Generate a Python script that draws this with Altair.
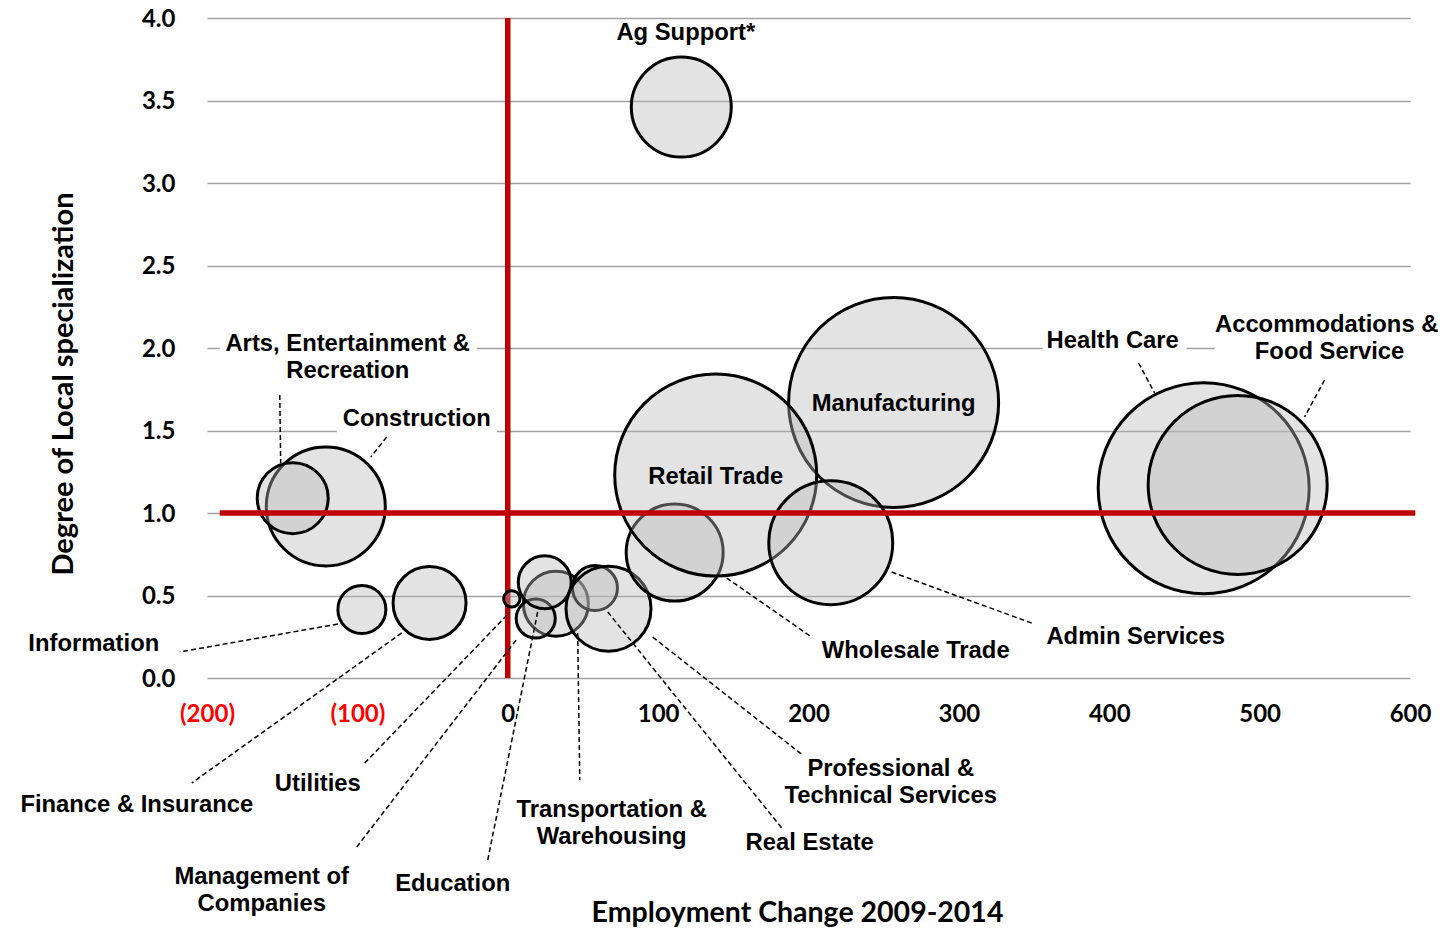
import altair as alt
import pandas as pd

# ---- bubble data (employment change, location quotient, bubble size) ----
industries = ["Construction", "Arts, Entertainment & Recreation", "Information",
              "Finance & Insurance", "Transportation & Warehousing", "Utilities",
              "Management of Companies", "Education", "Real Estate",
              "Professional & Technical Services", "Wholesale Trade", "Manufacturing",
              "Retail Trade", "Admin Services", "Ag Support*", "Health Care",
              "Accommodations & Food Service"]
emp_change = [-121, -143, -97, -52, 32, 2.7, 18.6, 24.6, 58, 67, 111, 256.6,
              138.3, 214.8, 115.4, 462.8, 485.4]
specialization = [1.04, 1.09, 0.415, 0.455, 0.45, 0.48, 0.36, 0.58, 0.545, 0.42,
                  0.76, 1.67, 1.23, 0.82, 3.46, 1.15, 1.17]
jobs = [1272, 453, 207, 479, 380, 24, 137, 252, 182, 649, 845, 3962, 3666, 1381,
        898, 4000, 2879]

# ---- annotation text (one row per line) ----
label_text = ["Ag Support*", "Arts, Entertainment &", "Recreation", "Construction",
              "Health Care", "Accommodations &", "Food Service", "Manufacturing",
              "Retail Trade", "Wholesale Trade", "Admin Services", "Information",
              "Finance & Insurance", "Utilities", "Management of", "Companies",
              "Education", "Transportation &", "Warehousing", "Real Estate",
              "Professional &", "Technical Services"]
label_x = [118.4, -106.4, -106.4, -60.5, 402.3, 544.6, 546.5, 256.6, 138.3, 271.3,
           417.6, -275.3, -246.7, -126.3, -163.6, -163.6, -36.6, 69.1, 69.1, 200.8,
           254.7, 254.7]
label_y = [3.909, 2.024, 1.861, 1.570, 2.042, 2.139, 1.976, 1.661, 1.218, 0.164,
           0.248, 0.206, -0.770, -0.642, -1.206, -1.370, -1.248, -0.800, -0.964,
           -1.000, -0.552, -0.715]

# ---- leader lines ----
leader_x1 = [-151.6, -80.5, 419.5, 543.2, 255.3, 145.6, -113.0, -70.5, -95.1, -100.4,
             -13.3, 46.5, 66.5, 96.4]
leader_y1 = [1.715, 1.461, 1.909, 1.806, 0.642, 0.606, 0.327, 0.273, -0.515, -1.024,
             -1.103, 0.273, 0.400, 0.248]
leader_x2 = [-151.0, -91.1, 430.2, 529.9, 348.4, 202.1, -218.1, -210.1, 1.5, 6.6,
             19.9, 47.9, 182.2, 196.1]
leader_y2 = [1.303, 1.339, 1.727, 1.582, 0.333, 0.248, 0.158, -0.636, 0.400, 0.242,
             0.400, -0.618, -0.909, -0.467]

# ---- white label backgrounds that interrupt gridlines ----
box_x1 = [-191.5, -113.7, 355.7, 470.1]
box_x2 = [-20.6, -7.3, 451.5, 612.0]
box_y1 = [1.945, 1.455, 1.945, 1.945]
box_y2 = [2.091, 1.636, 2.090, 2.200]

bubbles = pd.DataFrame({"industry": industries, "x": emp_change, "y": specialization,
                        "jobs": jobs, "z": list(range(len(industries)))})
labels = pd.DataFrame({"label": label_text, "x": label_x, "y": label_y})
leaders = pd.DataFrame({"x": leader_x1, "y": leader_y1, "x2": leader_x2, "y2": leader_y2})
boxes = pd.DataFrame({"x": box_x1, "x2": box_x2, "y": box_y1, "y2": box_y2})
vline = pd.DataFrame({"x": [0], "y": [0], "y2": [4]})
hline = pd.DataFrame({"x": [-191.5], "x2": [603.5], "y": [1.0]})

AX_FONT = "Lato"
LBL_FONT = "Liberation Sans"

xscale = alt.Scale(domain=[-200, 600], nice=False, zero=False)
yscale = alt.Scale(domain=[0, 4], nice=False, zero=False)

xaxis = alt.Axis(
    values=[-200, -100, 0, 100, 200, 300, 400, 500, 600],
    labelExpr="datum.value < 0 ? '(' + abs(datum.value) + ')' : '' + datum.value",
    labelColor={"condition": {"test": "datum.value < 0", "value": "#ff0000"}, "value": "#000000"},
    labelFont=AX_FONT, labelFontWeight="bold", labelFontSize=24,
    labelBaseline="middle", labelPadding=36, labelFlush=False, labelOverlap=False,
    grid=False, domain=False, ticks=False,
    title="Employment Change 2009-2014", titleFont=AX_FONT, titleFontWeight="bold",
    titleFontSize=28.5, titleColor="#000000", titleX=590, titleY=234,
    titleAlign="center", titleBaseline="middle",
)
yaxis = alt.Axis(
    values=[0, 0.5, 1, 1.5, 2, 2.5, 3, 3.5, 4], format=".1f",
    labelFont=AX_FONT, labelFontWeight="bold", labelFontSize=24, labelColor="#000000",
    labelPadding=32, labelBaseline="middle", labelOffset=1,
    grid=True, gridColor="#a0a0a0", gridWidth=1.3, domain=False, ticks=False,
    title="Degree of Local specialization", titleFont=AX_FONT, titleFontWeight="bold",
    titleFontSize=29, titleColor="#000000", titleX=-144, titleY=365.5, titleAngle=270,
    titleAlign="center", titleBaseline="middle",
)

X = alt.X("x:Q", scale=xscale, axis=xaxis)
Y = alt.Y("y:Q", scale=yscale, axis=yaxis)

box_layer = alt.Chart(boxes).mark_rect(fill="white", stroke=None).encode(
    x=X, x2="x2:Q", y=Y, y2="y2:Q")

vline_layer = alt.Chart(vline).mark_rule(color="#c00000", strokeWidth=5.5).encode(
    x=X, y=Y, y2="y2:Q")

bubble_layer = alt.Chart(bubbles).mark_circle(
    fill="#b8b8b8", fillOpacity=0.4, stroke="#000000", strokeWidth=3,
    strokeOpacity=1, opacity=1
).encode(
    x=X, y=Y,
    size=alt.Size("jobs:Q", scale=alt.Scale(domain=[0, 4000], range=[0, 44521], zero=True),
                  legend=None),
    order=alt.Order("z:Q"),
)

hline_layer = alt.Chart(hline).mark_rule(color="#c00000", strokeWidth=5.5).encode(
    x=X, x2="x2:Q", y=Y)

leader_layer = alt.Chart(leaders).mark_rule(
    color="#000000", strokeWidth=1.5, strokeDash=[5, 3]
).encode(x=X, y=Y, x2="x2:Q", y2="y2:Q")

text_layer = alt.Chart(labels).mark_text(
    font=LBL_FONT, fontWeight="bold", fontSize=23.8, color="#000000",
    align="center", baseline="middle"
).encode(x=X, y=Y, text="label:N")

chart = alt.layer(
    box_layer, vline_layer, bubble_layer, hline_layer, leader_layer, text_layer
).properties(
    width=1203, height=660,
    autosize=alt.AutoSizeParams(type="none"),
    padding={"left": 199, "top": 10, "right": 30, "bottom": 250},
).configure_view(stroke=None)

chart.save("out.html", embed_options={"renderer": "svg", "actions": False})
